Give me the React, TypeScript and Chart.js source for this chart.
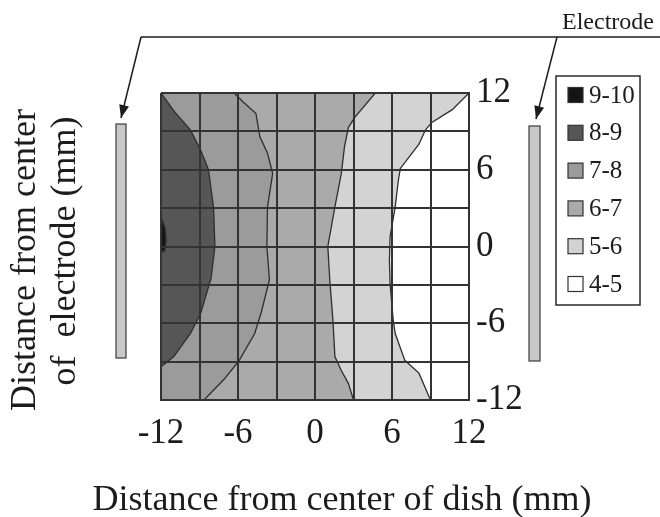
import React, { useEffect, useRef } from "react";
import { Chart, registerables } from "chart.js";

Chart.register(...registerables);

const FONT = "'Liberation Serif', 'Times New Roman', Times, serif";
const TEXT = "#1c1c1c";

// axes (mm)
const axisMin = -12;
const axisMax = 12;
const gridStep = 3;
const xTickLabels = [-12, -6, 0, 6, 12];
const yTickLabels = [-12, -6, 0, 6, 12];

// legend
const legendLabels = ["9-10", "8-9", "7-8", "6-7", "5-6", "4-5"];
const legendColors = ["#151515", "#565656", "#9b9b9b", "#aaaaaa", "#d3d3d3", "#ffffff"];

// contour boundaries (x mm, y mm)
const c109X = [-12, -11.7, -11.6, -11.7, -12];
const c109Y = [2.3, 1.5, 0.5, -0.3, -0.5];

const c98X = [-12, -11.0, -9.7, -8.9, -8.3, -7.9, -7.8, -8.1, -8.9, -9.7, -11.0, -12];
const c98Y = [12, 10.6, 9.1, 7.5, 6.0, 3.0, 0, -2.5, -5.2, -6.8, -8.6, -9.4];

const c87X = [-6.3, -5.7, -4.6, -4.3, -3.7, -3.3, -3.7, -3.75, -3.55, -4.2, -4.7, -5.9, -7.1, -8.65];
const c87Y = [12, 11.4, 10.4, 8.6, 7.3, 5.7, 3.1, 0, -2.6, -5.2, -6.8, -8.9, -10.4, -12];

const c76X = [4.7, 3.1, 2.6, 2.3, 2.05, 1.55, 1.0, 1.15, 1.4, 1.55, 2.05, 2.6, 3.0];
const c76Y = [12, 10.1, 9.3, 7.8, 5.7, 3.1, 0, -2.6, -5.8, -8.6, -9.7, -10.7, -12];

const c65X = [12, 10.7, 9.1, 8.6, 8.1, 6.65, 6.5, 6.25, 5.85, 5.8, 5.85, 6.1, 6.25, 7.0, 8.1, 9.0];
const c65Y = [12, 10.7, 9.7, 9.1, 8.0, 6.1, 5.2, 3.1, 0.75, -1.1, -2.9, -5.8, -6.8, -8.9, -9.9, -12];

const contours = [
  { xs: c65X, ys: c65Y, color: legendColors[4] },
  { xs: c76X, ys: c76Y, color: legendColors[3] },
  { xs: c87X, ys: c87Y, color: legendColors[2] },
  { xs: c98X, ys: c98Y, color: legendColors[1] },
  { xs: c109X, ys: c109Y, color: legendColors[0] },
];

function toPoints(xs: number[], ys: number[]) {
  return xs.map((x, i) => ({ x, y: ys[i] }));
}

function regionPoints(xs: number[], ys: number[]) {
  const pts = toPoints(xs, ys);
  pts.push({ x: axisMin, y: ys[ys.length - 1] });
  pts.push({ x: axisMin, y: ys[0] });
  return pts;
}

const decorPlugin = {
  id: "decor",
  afterDraw(chart: any) {
    const ctx = chart.ctx as CanvasRenderingContext2D;
    ctx.save();

    // electrodes
    ctx.fillStyle = "#c9c9c9";
    ctx.strokeStyle = "#3a3a3a";
    ctx.lineWidth = 1.2;
    ctx.fillRect(116, 124, 10, 234);
    ctx.strokeRect(116, 124, 10, 234);
    ctx.fillRect(529, 126, 11, 235);
    ctx.strokeRect(529, 126, 11, 235);

    // Electrode annotation
    ctx.strokeStyle = "#1c1c1c";
    ctx.lineWidth = 1.5;
    ctx.beginPath();
    ctx.moveTo(141, 37);
    ctx.lineTo(660, 37);
    ctx.stroke();
    const arrow = (x0: number, y0: number, x1: number, y1: number) => {
      ctx.beginPath();
      ctx.moveTo(x0, y0);
      ctx.lineTo(x1, y1);
      ctx.stroke();
      const ang = Math.atan2(y1 - y0, x1 - x0);
      const L = 13, W = 5;
      ctx.beginPath();
      ctx.moveTo(x1, y1);
      ctx.lineTo(x1 - L * Math.cos(ang) + W * Math.sin(ang), y1 - L * Math.sin(ang) - W * Math.cos(ang));
      ctx.lineTo(x1 - L * Math.cos(ang) - W * Math.sin(ang), y1 - L * Math.sin(ang) + W * Math.cos(ang));
      ctx.closePath();
      ctx.fillStyle = "#1c1c1c";
      ctx.fill();
    };
    arrow(141, 37, 121, 118);
    arrow(557, 37, 536, 119);

    ctx.fillStyle = TEXT;
    ctx.font = `24px ${FONT}`;
    ctx.textAlign = "left";
    ctx.textBaseline = "alphabetic";
    ctx.fillText("Electrode", 562, 29);

    // legend
    ctx.strokeStyle = "#2a2a2a";
    ctx.lineWidth = 1.5;
    ctx.strokeRect(556, 76, 84, 229);
    legendLabels.forEach((lab, i) => {
      const cy = 95 + i * 37.8;
      ctx.fillStyle = legendColors[i];
      ctx.fillRect(568, cy - 7.5, 15, 15);
      ctx.strokeStyle = "#333";
      ctx.lineWidth = 1.2;
      ctx.strokeRect(568, cy - 7.5, 15, 15);
      ctx.fillStyle = TEXT;
      ctx.font = `25px ${FONT}`;
      ctx.textBaseline = "middle";
      ctx.fillText(lab, 589, cy + 1);
    });

    // axis titles
    ctx.fillStyle = TEXT;
    ctx.font = `36px ${FONT}`;
    ctx.textAlign = "center";
    ctx.textBaseline = "alphabetic";
    ctx.fillText("Distance from center of dish (mm)", 342, 510);

    ctx.save();
    ctx.translate(35, 260);
    ctx.rotate(-Math.PI / 2);
    ctx.fillText("Distance from center", 0, 0);
    ctx.restore();
    ctx.save();
    ctx.translate(75, 251);
    ctx.rotate(-Math.PI / 2);
    ctx.fillText("of  electrode (mm)", 0, 0);
    ctx.restore();

    ctx.restore();
  },
};

export default function App() {
  const ref = useRef<HTMLCanvasElement | null>(null);

  useEffect(() => {
    if (!ref.current) return;
    const datasets: any[] = [];
    contours.forEach((c, i) => {
      datasets.push({
        data: regionPoints(c.xs, c.ys),
        showLine: true,
        fill: "shape",
        backgroundColor: c.color,
        borderColor: "rgba(0,0,0,0)",
        borderWidth: 1,
        pointRadius: 0,
        tension: 0,
        order: 20 - i,
      });
    });
    contours.forEach((c) => {
      datasets.push({
        data: toPoints(c.xs, c.ys),
        showLine: true,
        fill: false,
        borderColor: "#2e2e2e",
        borderWidth: 1.3,
        pointRadius: 0,
        tension: 0,
        order: 1,
      });
    });

    const tickCfg = (labels: number[], padding: number) => ({
      stepSize: gridStep,
      autoSkip: false,
      maxRotation: 0,
      padding,
      color: TEXT,
      font: { family: FONT, size: 35 },
      callback: (v: any) => (labels.includes(Number(v)) ? String(v) : ""),
    });

    const chart = new Chart(ref.current, {
      type: "scatter",
      data: { datasets },
      plugins: [decorPlugin],
      options: {
        responsive: false,
        animation: false,
        events: [],
        layout: { padding: { left: 161, top: 93, right: 0, bottom: 0 } },
        plugins: { legend: { display: false }, tooltip: { enabled: false } },
        scales: {
          x: {
            type: "linear",
            position: "bottom",
            min: axisMin,
            max: axisMax,
            ticks: tickCfg(xTickLabels, 13),
            grid: { color: "#333", lineWidth: 2, drawTicks: false, z: 1 },
            border: { display: true, color: "#333", width: 2, z: 1 },
            afterFit: (s: any) => {
              s.height = 117;
            },
          },
          y: {
            type: "linear",
            position: "right",
            min: axisMin,
            max: axisMax,
            ticks: tickCfg(yTickLabels, 7),
            grid: { color: "#333", lineWidth: 2, drawTicks: false, z: 1 },
            border: { display: true, color: "#333", width: 2, z: 1 },
            afterFit: (s: any) => {
              s.width = 191;
            },
          },
        },
      } as any,
    });
    return () => chart.destroy();
  }, []);

  return (
    <div style={{ position: "absolute", left: 0, top: 0, width: 660, height: 517, background: "#fff" }}>
      <canvas ref={ref} width={660} height={517} style={{ display: "block" }} />
    </div>
  );
}
